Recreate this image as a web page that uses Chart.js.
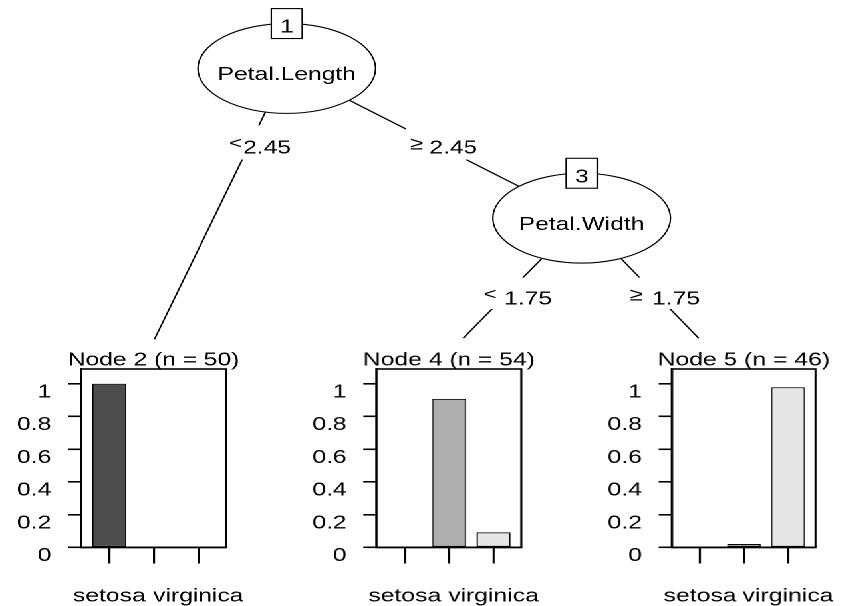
<!DOCTYPE html>
<html>
<head>
<meta charset="utf-8">
<script src="https://cdn.jsdelivr.net/npm/chart.js@4.4.1/dist/chart.umd.min.js"></script>
<style>
  html, body { margin: 0; padding: 0; background: #fff; }
  /* the figure is laid out narrow and widened horizontally as a whole */
  #stage { position: absolute; left: 0; top: 0; height: 606px; transform-origin: 0 0; }
  .box { position: absolute; left: 0; top: 0; }
  canvas { display: block; }
</style>
</head>
<body>
<div id="stage">
  <div class="box" id="treeBox"><canvas id="tree" width="635" height="606"></canvas></div>
  <div class="box" id="p0"><canvas id="c0" width="220" height="270"></canvas></div>
  <div class="box" id="p1"><canvas id="c1" width="220" height="270"></canvas></div>
  <div class="box" id="p2"><canvas id="c2" width="220" height="270"></canvas></div>
</div>
<script>
// ---- classes and tick labels ----
const classes = ['setosa', 'versicolor', 'virginica'];
const classColors = ['#4D4D4D', '#AEAEAE', '#E6E6E6'];
const xTickLabels = ['setosa', '', 'virginica'];
const yTickValues = [0, 0.2, 0.4, 0.6, 0.8, 1];

// ---- terminal nodes: class counts ----
const terminalIds = [2, 4, 5];
const node2Counts = [50, 0, 0];
const node4Counts = [0, 49, 5];
const node5Counts = [0, 1, 45];

// ---- inner nodes: split variable and cut point ----
const innerIds = [1, 3];
const splitVars = ['Petal.Length', 'Petal.Width'];
const splitValues = [2.45, 1.75];

// ---- geometry (page pixels) ----
const SX = 1.33;                // horizontal widening of the figure
const PAGE_W = 845, PAGE_H = 606;
const STAGE_W = PAGE_W / SX;
const FONT = "'Liberation Sans', Arial, Helvetica, sans-serif";
const FS = 18.5;
const INK = '#000';

const panelBoxes = [
  { left: 81.7, width: 145 },
  { left: 376.7, width: 144.3 },
  { left: 672.3, width: 142.7 }
];
const AREA_TOP = 368.8, AREA_BOTTOM = 547.3, TITLE_MID = 360;
const X_MIN = -0.635, X_MAX = 2.625, Y_MAX = 1.09;

const treeLayout = {
  inner: [{ x: 286.5, y: 68 }, { x: 582, y: 218 }],
  rx: 89, ry: 45,
  leafAnchors: [{ x: 154, y: 339.3 }, { x: 463.3, y: 338.3 }, { x: 699.3, y: 338.3 }]
};
// tree edges: parent inner node -> child (inner or leaf), with branch side
const edges = [
  { from: 0, inner: null, leaf: 0, side: 'left' },
  { from: 0, inner: 1, leaf: null, side: 'right' },
  { from: 1, inner: null, leaf: 1, side: 'left' },
  { from: 1, inner: null, leaf: 2, side: 'right' }
];
const edgeLabelPos = [
  { sym: 235.3, num: 243.5, y: 147.9, top: 125, bottom: 159.3 },
  { sym: 416.7, num: 430, y: 147.9, top: 126, bottom: 159.3 },
  { sym: 490.3, num: 505, y: 299.2, top: 277.5, bottom: 309 },
  { sym: 637, num: 653.3, y: 299.2, top: 277.5, bottom: 309 }
];

const stage = document.getElementById('stage');
stage.style.width = STAGE_W + 'px';
stage.style.transform = `scaleX(${SX})`;

// ---- tree: edges as line datasets, nodes and labels drawn on the same scales ----
function childPoint(e) {
  return e.inner !== null ? treeLayout.inner[e.inner] : treeLayout.leafAnchors[e.leaf];
}

const treeNodes = {
  id: 'treeNodes',
  afterDatasetsDraw(chart) {
    const ctx = chart.ctx, xs = chart.scales.x, ys = chart.scales.y;
    const X = v => xs.getPixelForValue(v), Y = v => ys.getPixelForValue(v);
    ctx.save();
    ctx.textBaseline = 'middle';

    // split labels on the edges
    edges.forEach((e, i) => {
      const p = edgeLabelPos[i];
      const num = String(splitValues[e.from]);
      ctx.font = `${FS}px ${FONT}`;
      const numW = ctx.measureText(num).width;
      const l = X(p.sym) - 8, r = X(p.num) + numW + 2;
      ctx.fillStyle = '#fff';
      ctx.fillRect(l, Y(p.top), r - l, Y(p.bottom) - Y(p.top));
      ctx.fillStyle = INK;
      ctx.textAlign = 'center';
      if (e.side === 'left') {
        ctx.font = `17px ${FONT}`;
        ctx.fillText('<', X(p.sym), Y(p.y - 4.5));
      } else {
        ctx.font = `18px ${FONT}`;
        ctx.fillText('\u2265', X(p.sym), Y(p.y - 3.5));
      }
      ctx.font = `${FS}px ${FONT}`;
      ctx.textAlign = 'left';
      ctx.fillText(num, X(p.num) - 0.5, Y(p.y));
    });

    // inner nodes: ellipse, variable name, id box
    treeLayout.inner.forEach((n, i) => {
      const cx = X(n.x), cy = Y(n.y);
      const rx = Math.abs(X(n.x + treeLayout.rx) - cx);
      const ry = Math.abs(Y(n.y + treeLayout.ry) - cy);
      ctx.beginPath();
      ctx.ellipse(cx, cy, rx, ry, 0, 0, Math.PI * 2);
      ctx.fillStyle = '#fff';
      ctx.fill();
      ctx.lineWidth = 1.1;
      ctx.strokeStyle = INK;
      ctx.stroke();

      ctx.fillStyle = INK;
      ctx.font = `${FS}px ${FONT}`;
      ctx.textAlign = 'center';
      ctx.fillText(splitVars[i], cx, Y(n.y + 6.6));

      const bw = Math.abs(X(n.x + 15.5) - X(n.x - 15.5));
      const by = n.y - treeLayout.ry;
      const bt = Y(by - 15), bb = Y(by + 15);
      ctx.fillStyle = '#fff';
      ctx.fillRect(cx - bw / 2, bt, bw, bb - bt);
      ctx.lineWidth = 1.1;
      ctx.strokeRect(cx - bw / 2, bt, bw, bb - bt);
      ctx.fillStyle = INK;
      ctx.fillText(String(innerIds[i]), cx, Y(by + 4));
    });
    ctx.restore();
  }
};

const treeChart = new Chart(document.getElementById('tree'), {
  type: 'scatter',
  data: {
    datasets: edges.map(e => ({
      data: [treeLayout.inner[e.from], childPoint(e)],
      showLine: true,
      borderColor: INK,
      borderWidth: 1.2,
      pointRadius: 0,
      clip: false
    }))
  },
  options: {
    responsive: false, maintainAspectRatio: false, animation: false,
    devicePixelRatio: 2, events: [],
    layout: { padding: 0 },
    plugins: { legend: { display: false }, tooltip: { enabled: false } },
    scales: {
      x: { type: 'linear', min: 0, max: PAGE_W, display: false },
      y: { type: 'linear', min: 0, max: PAGE_H, reverse: true, display: false }
    }
  },
  plugins: [treeNodes]
});
treeChart.resize(STAGE_W, PAGE_H);

// ---- terminal node bar plots ----
const panelFrame = {
  id: 'panelFrame',
  afterDraw(chart, args, opts) {
    const a = chart.chartArea, ctx = chart.ctx;
    ctx.save();
    ctx.strokeStyle = INK;
    ctx.lineWidth = 1.6;
    ctx.strokeRect(a.left, a.top, a.right - a.left, a.bottom - a.top);
    // node title centred over the plot box
    ctx.fillStyle = INK;
    ctx.font = `${FS}px ${FONT}`;
    ctx.textAlign = 'center';
    ctx.textBaseline = 'middle';
    ctx.fillText(opts.text, (a.left + a.right) / 2, a.top - (AREA_TOP - TITLE_MID));
    ctx.restore();
  }
};

// move and resize a panel so its plot box lands on the given page rectangle
function fitPanel(chart, div, box) {
  const wantW = box.width / SX, wantH = AREA_BOTTOM - AREA_TOP;
  for (let k = 0; k < 3; k++) {
    const a = chart.chartArea;
    const w = chart.width + wantW - (a.right - a.left);
    const h = chart.height + wantH - (a.bottom - a.top);
    if (Math.abs(w - chart.width) > 0.05 || Math.abs(h - chart.height) > 0.05) chart.resize(w, h);
    const b = chart.chartArea;
    div.style.left = (box.left / SX - b.left) + 'px';
    div.style.top = (AREA_TOP - b.top) + 'px';
  }
}

function makePanel(i, counts) {
  const n = counts.reduce((s, c) => s + c, 0);
  const props = counts.map(c => c / n);
  const box = panelBoxes[i];
  const div = document.getElementById('p' + i);
  const tickFont = { family: FONT, size: FS };

  const chart = new Chart(document.getElementById('c' + i), {
    type: 'bar',
    data: {
      datasets: [{
        data: props.map((v, k) => ({ x: k, y: v })),
        backgroundColor: classColors,
        borderColor: INK,
        borderWidth: 1,
        borderSkipped: false,
        barPercentage: 0.765,
        categoryPercentage: 1
      }]
    },
    options: {
      responsive: false, maintainAspectRatio: false, animation: false,
      devicePixelRatio: 2, events: [],
      layout: { padding: { left: 0, right: 30, top: 28, bottom: 0 } },
      plugins: {
        legend: { display: false },
        tooltip: { enabled: false },
        title: { display: false },
        panelFrame: { text: `Node ${terminalIds[i]} (n = ${n})` }
      },
      scales: {
        x: {
          type: 'linear', min: X_MIN, max: X_MAX, offset: false,
          afterBuildTicks: s => { s.ticks = classes.map((c, k) => ({ value: k })); },
          afterFit: s => { s.height = PAGE_H - AREA_BOTTOM; s.paddingLeft = 0; s.paddingRight = 0; },
          grid: { display: true, offset: false, drawOnChartArea: false, drawTicks: true, tickLength: 16, color: INK, lineWidth: 1.6 },
          border: { display: true, color: INK, width: 1.6 },
          ticks: {
            callback: v => xTickLabels[v] ?? '',
            color: INK, font: tickFont, padding: 21.6, maxRotation: 0, minRotation: 0, autoSkip: false
          }
        },
        y: {
          type: 'linear', min: 0, max: Y_MAX,
          afterBuildTicks: s => { s.ticks = yTickValues.map(v => ({ value: v })); },
          afterFit: s => { s.width = 60; s.paddingTop = 0; s.paddingBottom = 0; },
          grid: { display: true, drawOnChartArea: false, drawTicks: true, tickLength: 10, color: INK, lineWidth: 1.6 },
          border: { display: true, color: INK, width: 1.6 },
          ticks: { callback: v => String(v), color: INK, font: tickFont, padding: 12.5, labelOffset: 8.6 }
        }
      }
    },
    plugins: [panelFrame]
  });
  fitPanel(chart, div, box);
}

makePanel(0, node2Counts);
makePanel(1, node4Counts);
makePanel(2, node5Counts);
</script>
</body>
</html>
